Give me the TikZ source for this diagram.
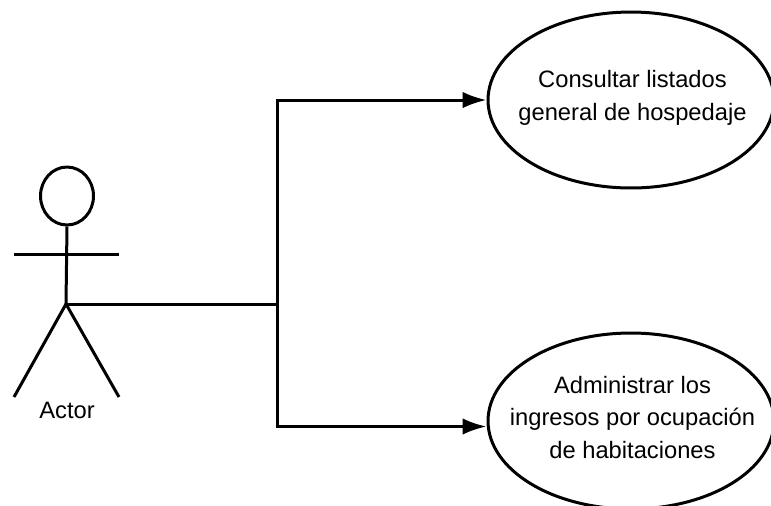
\documentclass[tikz,border=0pt]{standalone}
\usepackage{fontspec}
\setmainfont{Liberation Sans}
\usetikzlibrary{shapes.geometric,arrows.meta}
\tikzset{
    limb/.style={line width=0.06cm},
    usecase/.style={draw,ellipse,line width=0.06cm,inner sep=0pt,minimum width=5.72cm,minimum height=3.52cm},
    casetext/.style={align=center,xshift=0.03cm,font=\fontsize{13.5}{18.6}\selectfont},
    link/.style={line width=0.06cm,-{Latex[length=0.48cm,width=0.33cm]}}
}
\begin{document}
\begin{tikzpicture}[x=0.02cm,y=-0.02cm]
    \useasboundingbox (0,0) rectangle (771,505);

    % Actor
    \node[draw,ellipse,limb,inner sep=0pt,minimum width=1.06cm,minimum height=1.16cm] (head) at (67,196) {};
    \coordinate (hip) at (66,304);
    \coordinate (handl) at (14,254);
    \coordinate (handr) at (119,254);
    \coordinate (footl) at (14,397);
    \coordinate (footr) at (119,397);
    \draw[limb] (head.south) -- (hip);
    \draw[limb] (handl) -- (handr);
    \draw[limb] (footl) -- (hip) -- (footr);
    \node[font=\fontsize{13.5}{16}\selectfont] (actor) at (67,410) {Actor};

    % Use cases
    \node[usecase] (listados) at (631,100) {};
    \node[casetext,yshift=0.04cm] (listadostext) at (listados) {Consultar listados\\general de hospedaje};
    \node[usecase] (ingresos) at (631,421) {};
    \node[casetext,yshift=0.07cm] (ingresostext) at (ingresos) {Administrar los\\ingresos por ocupación\\de habitaciones};

    % Wires
    \coordinate (branch) at (277,304);
    \draw[link] (hip) -- (branch) |- (listados.west);
    \draw[link] (hip) -- (branch) |- ([yshift=-0.11cm]ingresos.west);
\end{tikzpicture}
\end{document}
